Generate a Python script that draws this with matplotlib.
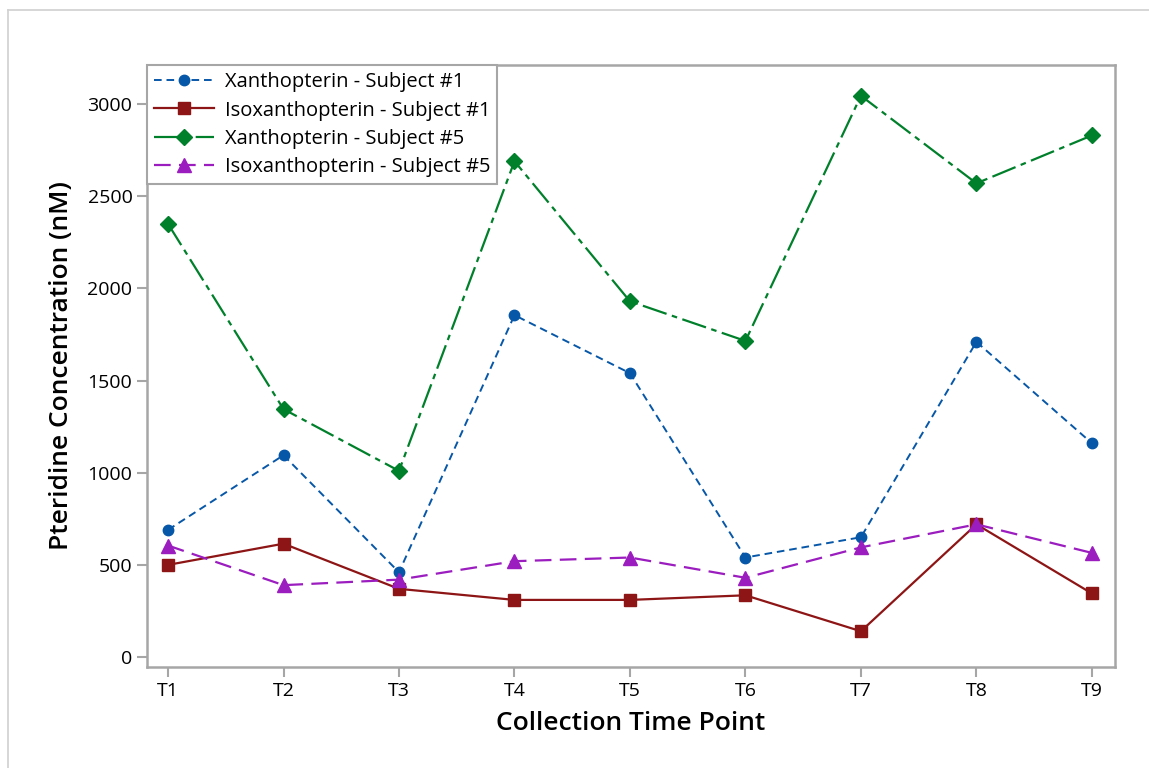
import numpy as np
import matplotlib.pyplot as plt
from matplotlib.lines import Line2D

plt.rcParams['font.family'] = ['Open Sans', 'DejaVu Sans']
plt.rcParams['lines.scale_dashes'] = False

time_points = ['T1', 'T2', 'T3', 'T4', 'T5', 'T6', 'T7', 'T8', 'T9']
xan_s1 = [690, 1095, 460, 1855, 1540, 540, 650, 1710, 1160]
isox_s1 = [500, 615, 370, 310, 310, 335, 140, 720, 345]
xan_s5 = [2350, 1345, 1010, 2690, 1930, 1715, 3045, 2570, 2830]
isox_s5 = [605, 390, 420, 520, 540, 430, 595, 720, 565]

x = np.arange(1, len(time_points) + 1)

fig = plt.figure(figsize=(11.49, 7.68), dpi=100)
ax = fig.add_axes([147/1149, 1 - 667/768, (1115-147)/1149, (667-65)/768])

# outer light frame (left and top only visible)
fig.add_artist(Line2D([8/1149, 8/1149], [0, 1 - 10/768], color='#d0d0d0', lw=1.2))
fig.add_artist(Line2D([8/1149, 1], [1 - 10/768, 1 - 10/768], color='#d0d0d0', lw=1.2))

ax.plot(x, xan_s1, color='#0757A8', ls=(0, (5.5, 3.5)), lw=1.4, marker='o', ms=7.5,
        label='Xanthopterin - Subject #1')
ax.plot(x, isox_s1, color='#8E1515', ls='-', lw=1.6, marker='s', ms=8,
        label='Isoxanthopterin - Subject #1')
ax.plot(x, xan_s5, color='#00802B', ls=(0, (18, 4, 4, 4)), lw=1.6, marker='D', ms=8,
        label='Xanthopterin - Subject #5')
ax.plot(x, isox_s5, color='#9B1DBF', ls=(0, (12, 6)), lw=1.6, marker='^', ms=9.5,
        label='Isoxanthopterin - Subject #5')

ax.set_xlim(0.818, 9.2)
ax.set_ylim(-54, 3212)
ax.set_xticks(x)
ax.set_xticklabels(time_points)
ax.set_yticks([0, 500, 1000, 1500, 2000, 2500, 3000])

for s in ax.spines.values():
    s.set_color('#a6a6a6')
    s.set_linewidth(1.8)
ax.tick_params(axis='both', colors='#a6a6a6', labelcolor='black', labelsize=14,
               length=7, width=1.5, direction='out')

ax.set_xlabel('Collection Time Point', fontsize=19, fontweight='semibold', labelpad=8)
ax.set_ylabel('Pteridine Concentration (nM)', fontsize=19, fontweight='semibold', labelpad=10)

leg = ax.legend(loc='upper left', bbox_to_anchor=(0, 1), borderaxespad=0, fontsize=14.5,
                frameon=True, fancybox=False, edgecolor='#a6a6a6', framealpha=1,
                handlelength=3.0, handletextpad=0.5, labelspacing=0.42, borderpad=0.35)
leg.get_frame().set_linewidth(1.5)

plt.savefig('out.png', dpi=100)
